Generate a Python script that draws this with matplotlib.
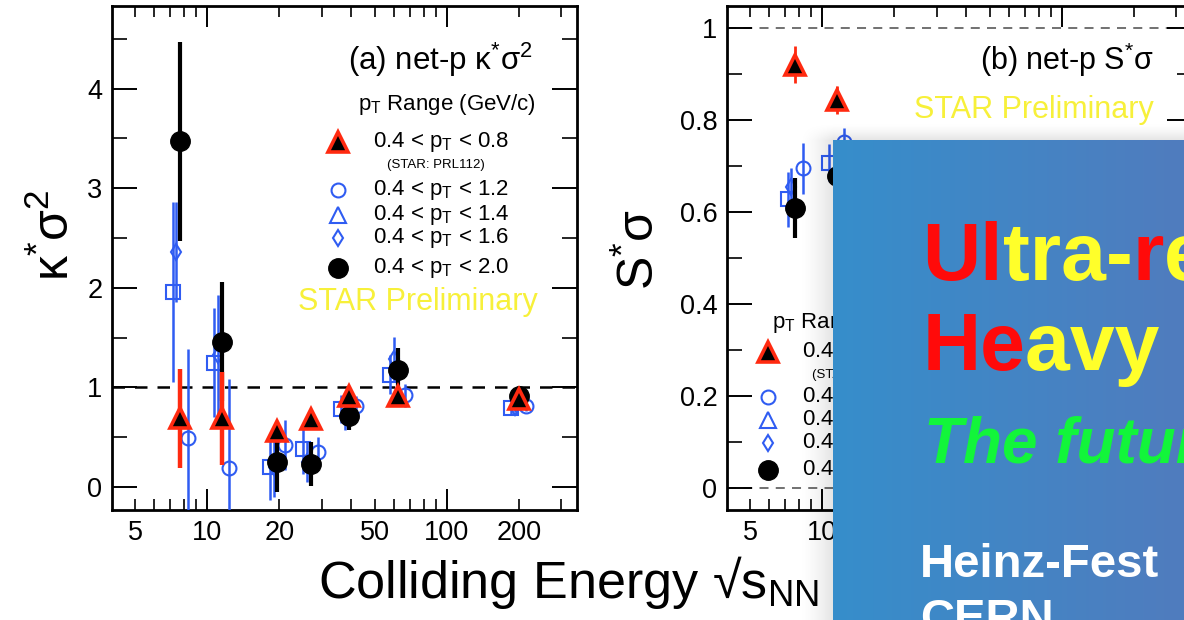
import numpy as np
import matplotlib
matplotlib.use("Agg")
import matplotlib.pyplot as plt
from matplotlib.ticker import FixedLocator, FixedFormatter

plt.rcParams['font.family'] = ['Liberation Sans', 'DejaVu Sans']
plt.rcParams['mathtext.fontset'] = 'custom'
plt.rcParams['mathtext.rm'] = 'Liberation Sans'
plt.rcParams['mathtext.it'] = 'Liberation Sans:italic'
plt.rcParams['mathtext.bf'] = 'Liberation Sans:bold'

# ---------------- data ----------------
# collision energies (GeV)
energies = [7.7, 11.5, 19.6, 27, 39, 62.4, 200]

# net-proton kappa*sigma^2 for several pT ranges
ks_pt08 = [0.69, 0.69, 0.56, 0.68, 0.91, 0.91, 0.88]
ks_pt08_err = [0.50, 0.47, 0.06, 0.05, 0.05, 0.06, 0.05]
ks_pt12 = [0.49, 0.19, 0.42, 0.35, 0.81, 0.92, 0.81]
ks_pt12_err = [0.90, 0.90, 0.25, 0.15, 0.10, 0.12, 0.05]
ks_pt14 = [1.96, 1.25, 0.20, 0.38, 0.78, 1.13, 0.79]
ks_pt14_err = [0.90, 0.55, 0.33, 0.25, 0.14, 0.20, 0.06]
ks_pt16 = [2.36, 1.33, 0.20, 0.25, 0.71, 1.29, 0.80]
ks_pt16_err = [0.50, 0.60, 0.30, 0.20, 0.14, 0.22, 0.05]
ks_pt20 = [3.47, 1.46, 0.25, 0.23, 0.71, 1.18, 0.91]
ks_pt20_err = [1.00, 0.60, 0.30, 0.22, 0.14, 0.22, 0.06]

# net-proton S*sigma (lowest energies)
ss_energies = [7.7, 11.5]
ss_pt08 = [0.92, 0.843]
ss_pt08_err = [0.04, 0.03]
ss_pt12 = [0.695, 0.753]
ss_pt12_err = [0.055, 0.03]
ss_pt14 = [0.628, 0.707]
ss_pt14_err = [0.06, 0.04]
ss_pt16 = [0.655, np.nan]
ss_pt16_err = [0.04, np.nan]
ss_pt20 = [0.608, 0.678]
ss_pt20_err = [0.065, 0.04]

xtick_major = [10, 100]
xtick_minor = [5, 6, 7, 8, 9, 20, 30, 40, 50, 60, 70, 80, 90, 200, 300]
xtick_minor_labels = ['5', '', '', '', '', '20', '', '', '50', '', '', '', '', '200', '']

legend_labels = ['0.4 < p$_{\\mathregular{T}}$ < 0.8', '0.4 < p$_{\\mathregular{T}}$ < 1.2',
                 '0.4 < p$_{\\mathregular{T}}$ < 1.4', '0.4 < p$_{\\mathregular{T}}$ < 1.6',
                 '0.4 < p$_{\\mathregular{T}}$ < 2.0']

# ---------------- styles ----------------
RED = '#ff2a10'
BLUE = '#2f5cf2'
sty_red = dict(marker='^', ms=14, mfc='black', mec=RED, mew=2.6, color=RED, elw=3.2, shift=1.0, z=5)
sty_circ = dict(marker='o', ms=10, mfc='none', mec=BLUE, mew=1.5, color=BLUE, elw=1.8, shift=1.075, z=3)
sty_sq = dict(marker='s', ms=10, mfc='none', mec=BLUE, mew=1.5, color=BLUE, elw=1.8, shift=0.93, z=3)
sty_dia = dict(marker='d', ms=8, mfc='none', mec=BLUE, mew=1.5, color=BLUE, elw=1.8, shift=0.965, z=3)
sty_blk = dict(marker='o', ms=14, mfc='black', mec='black', mew=1, color='black', elw=3.0, shift=1.0, z=4)
sty_tri_leg = dict(marker='^', ms=12, mfc='none', mec=BLUE, mew=1.5)

W, H = 1184, 620
fig = plt.figure(figsize=(W / 100, H / 100), dpi=100)


def fig_rect(l, t, r, b):
    return [l / W, 1 - b / H, (r - l) / W, (b - t) / H]


def draw_series(ax, x, y, err, s):
    xs = np.asarray(x, float) * s['shift']
    ax.errorbar(xs, y, yerr=err, fmt='none', ecolor=s['color'], elinewidth=s['elw'],
                capsize=0, zorder=s['z'])
    ax.plot(xs, y, ls='none', marker=s['marker'], ms=s['ms'], mfc=s['mfc'],
            mec=s['mec'], mew=s['mew'], zorder=s['z'] + 0.5)


def style_axes(ax, ylim, yticks, ylabels, yminor):
    ax.set_xscale('log')
    ax.set_xlim(4, 350)
    ax.set_ylim(*ylim)
    ax.xaxis.set_major_locator(FixedLocator(xtick_major))
    ax.xaxis.set_major_formatter(FixedFormatter([str(v) for v in xtick_major]))
    ax.xaxis.set_minor_locator(FixedLocator(xtick_minor))
    ax.xaxis.set_minor_formatter(FixedFormatter(xtick_minor_labels))
    ax.yaxis.set_major_locator(FixedLocator(yticks))
    ax.yaxis.set_major_formatter(FixedFormatter(ylabels))
    ax.yaxis.set_minor_locator(FixedLocator(yminor))
    ax.tick_params(which='both', direction='in', top=True, right=True,
                   labelsize=19.5, pad=7, colors='black')
    ax.tick_params(axis='x', which='major', length=15, width=1.4)
    ax.tick_params(axis='x', which='minor', length=8, width=1.2)
    ax.tick_params(axis='y', which='major', length=18, width=1.4)
    ax.tick_params(axis='y', which='minor', length=11, width=1.2)
    for sp in ax.spines.values():
        sp.set_linewidth(2.0)
        sp.set_color('black')


def legend_block(ax, xm, xt, xh, yh, rows, note_y, note_x):
    tr = ax.transAxes
    ax.text(xh, yh, 'p$_{\\mathregular{T}}$ Range (GeV/c)', transform=tr, fontsize=16,
            ha='left', va='center')
    marks = [sty_red, sty_circ, sty_tri_leg, sty_dia, sty_blk]
    for yy, st, lab in zip(rows, marks, legend_labels):
        ax.plot([xm], [yy], transform=tr, ls='none', marker=st['marker'], ms=st['ms'],
                mfc=st['mfc'], mec=st['mec'], mew=st['mew'], clip_on=False, zorder=6)
        ax.text(xt, yy, lab, transform=tr, fontsize=16, ha='left', va='center')
    ax.text(note_x, note_y, '(STAR: PRL112)', transform=tr, fontsize=9.5,
            ha='left', va='center')


# ---------------- panel (a) ----------------
axA = fig.add_axes(fig_rect(112, 6, 577, 510))
style_axes(axA, (-0.23, 4.83), [0, 1, 2, 3, 4], ['0', '1', '2', '3', '4'],
           [0.5, 1.5, 2.5, 3.5, 4.5])
axA.axhline(1, color='black', lw=1.8, ls=(0, (5, 4)), zorder=1)
for yv, ev, st in [(ks_pt14, ks_pt14_err, sty_sq), (ks_pt16, ks_pt16_err, sty_dia),
                   (ks_pt12, ks_pt12_err, sty_circ), (ks_pt20, ks_pt20_err, sty_blk),
                   (ks_pt08, ks_pt08_err, sty_red)]:
    draw_series(axA, energies, yv, ev, st)
axA.text(0.905, 0.893, '(a) net-p κ$^{*}$σ$^{2}$', transform=axA.transAxes, fontsize=22.5,
         ha='right', va='center')
legend_block(axA, 0.486, 0.561, 0.529, 0.804,
             [0.730, 0.635, 0.585, 0.540, 0.480], 0.685, 0.591)
axA.text(0.916, 0.413, 'STAR Preliminary', transform=axA.transAxes, fontsize=22,
         color='#f7f03a', ha='right', va='center')

# ---------------- panel (b) ----------------
axB = fig.add_axes(fig_rect(727, 6, 1192, 510))
style_axes(axB, (-0.048, 1.048), [0, 0.2, 0.4, 0.6, 0.8, 1.0],
           ['0', '0.2', '0.4', '0.6', '0.8', '1'], [0.1, 0.3, 0.5, 0.7, 0.9])
axB.axhline(1, color='#666666', lw=1.3, ls=(0, (5, 4)), zorder=1)
axB.axhline(0, color='#666666', lw=1.3, ls=(0, (5, 4)), zorder=1)
sty_red_b = dict(sty_red, elw=2.0)
for yv, ev, st in [(ss_pt14, ss_pt14_err, sty_sq), (ss_pt16, ss_pt16_err, sty_dia),
                   (ss_pt12, ss_pt12_err, sty_circ), (ss_pt20, ss_pt20_err, sty_blk),
                   (ss_pt08, ss_pt08_err, sty_red_b)]:
    draw_series(axB, ss_energies, yv, ev, st)
axB.text(0.918, 0.893, '(b) net-p S$^{*}$σ', transform=axB.transAxes, fontsize=22,
         ha='right', va='center')
axB.text(0.918, 0.794, 'STAR Preliminary', transform=axB.transAxes, fontsize=22,
         color='#f7f03a', ha='right', va='center')
legend_block(axB, 0.088, 0.161, 0.097, 0.373,
             [0.313, 0.224, 0.179, 0.133, 0.079], 0.268, 0.183)

# ---------------- axis titles ----------------
fig.text(55 / W, 1 - 235 / H, 'κ$^{*}$σ$^{2}$', rotation=90, fontsize=36,
         ha='center', va='center')
fig.text(640 / W, 1 - 250 / H, 'S$^{*}$σ', rotation=90, fontsize=36,
         ha='center', va='center')
fig.text(318 / W, 1 - 598 / H, 'Colliding Energy √s$_{\\mathregular{NN}}$', fontsize=37.5,
         ha='left', va='baseline')

# ---------------- slide overlay ----------------
# soft drop shadow
sh_l, sh_t = 798, 122
sh_ax = fig.add_axes(fig_rect(sh_l, sh_t, W, H), zorder=9)
sw, shh = W - sh_l, H - sh_t
xx = np.arange(sw)[None, :]
yy = np.arange(shh)[:, None]
alpha = 0.11 * np.clip(xx / 35.0, 0, 1) ** 1.5 * np.clip(yy / 18.0, 0, 1) ** 1.5
shadow = np.zeros((shh, sw, 4))
shadow[..., 3] = alpha
sh_ax.imshow(shadow, aspect='auto', extent=[0, 1, 0, 1], interpolation='bilinear')
sh_ax.set_axis_off()

box_ax = fig.add_axes(fig_rect(833, 140, W, H), zorder=10)
c0 = np.array([54, 142, 203]) / 255
c1 = np.array([80, 124, 190]) / 255
t = np.linspace(0, 1, 256)[None, :, None]
grad = c0 * (1 - t) + c1 * t
box_ax.imshow(grad, aspect='auto', extent=[0, 1, 0, 1], interpolation='bilinear')
box_ax.set_xlim(0, 1)
box_ax.set_ylim(0, 1)
box_ax.set_axis_off()

renderer = fig.canvas.get_renderer()
box_w = box_ax.get_window_extent(renderer).width


def colored_line(ax, x, y, pieces, **kw):
    for s, c in pieces:
        tx = ax.text(x, y, s, color=c, transform=ax.transAxes, ha='left',
                     va='baseline', clip_on=False, **kw)
        x += tx.get_window_extent(renderer).width / box_w


YEL = '#ffff2a'
RD = '#ff0a0a'
colored_line(box_ax, 0.254, 0.708, [('Ul', RD), ('tra-', YEL), ('r', RD), ('elativistic', YEL)],
             fontsize=58, fontweight='bold')
colored_line(box_ax, 0.254, 0.521, [('He', RD), ('avy ion', YEL)],
             fontsize=58, fontweight='bold')
box_ax.text(0.259, 0.329, 'The future', color='#12f53a', transform=box_ax.transAxes,
            fontsize=46, fontweight='bold', fontstyle='italic', ha='left', va='baseline',
            clip_on=False)
box_ax.text(0.248, 0.0896, 'Heinz-Fest', color='white', transform=box_ax.transAxes,
            fontsize=34, fontweight='bold', ha='left', va='baseline', clip_on=False)
box_ax.text(0.248, -0.025, 'CERN', color='white', transform=box_ax.transAxes,
            fontsize=34, fontweight='bold', ha='left', va='baseline', clip_on=False)

fig.savefig('out.png', dpi=100)
